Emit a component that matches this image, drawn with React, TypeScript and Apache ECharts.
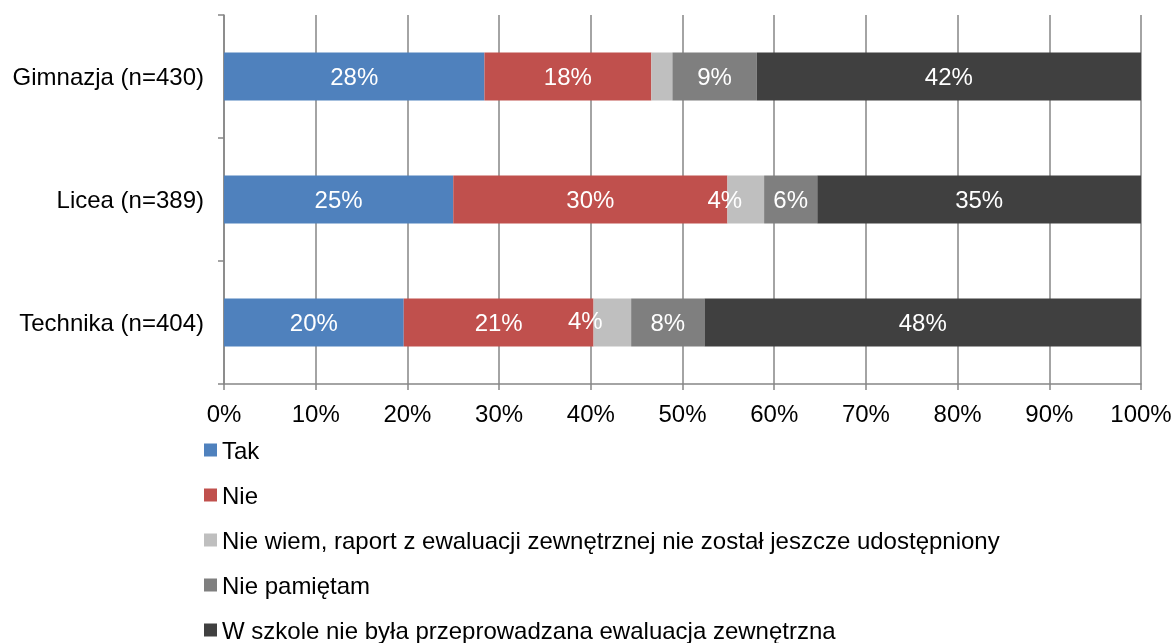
import React, { useEffect, useRef } from "react";
import * as echarts from "echarts";

const categories = ["Gimnazja (n=430)", "Licea (n=389)", "Technika (n=404)"];
const seriesNames = [
  "Tak",
  "Nie",
  "Nie wiem, raport z ewaluacji zewnętrznej nie został jeszcze udostępniony",
  "Nie pamiętam",
  "W szkole nie była przeprowadzana ewaluacja zewnętrzna",
];
const tak = [28.4, 25.0, 19.6];
const nie = [18.2, 29.9, 20.7];
const nieWiem = [2.3, 4.0, 4.1];
const niePamietam = [9.2, 5.8, 8.0];
const wSzkole = [41.9, 35.3, 47.6];
const xTicks = [0, 10, 20, 30, 40, 50, 60, 70, 80, 90, 100];

const colors = ["#4F81BD", "#C0504D", "#BFBFBF", "#7F7F7F", "#404040"];
const FONT = "Liberation Sans, Arial, sans-serif";
const FS = 24;

export default function App() {
  const ref = useRef<HTMLDivElement>(null);
  useEffect(() => {
    if (!ref.current) return;
    document.body.style.margin = "0";
    document.body.style.overflow = "hidden";
    const chart = echarts.init(ref.current, null, { renderer: "svg" });
    const all = [tak, nie, nieWiem, niePamietam, wSzkole];
    // label tweaks for the light-gray series (as in the reference)
    const nieWiemLabel = [
      { show: false },
      { show: true, offset: [-21, 0] },
      { show: true, offset: [-27, -2] },
    ];
    const series = all.map((vals, si) => ({
      name: seriesNames[si],
      type: "bar",
      stack: "total",
      barWidth: 48,
      itemStyle: { color: colors[si] },
      label: {
        show: true,
        position: "inside",
        color: "#fff",
        fontSize: FS,
        fontFamily: FONT,
        formatter: (p: any) => Math.round(p.value) + "%",
      },
      data: vals.map((v, i) =>
        si === 2 ? { value: v, label: nieWiemLabel[i] } : { value: v }
      ),
    }));
    chart.setOption({
      animation: false,
      textStyle: { fontFamily: FONT },
      grid: { left: 224, right: 34, top: 15, bottom: 259, containLabel: false },
      xAxis: {
        type: "value",
        min: xTicks[0],
        max: xTicks[xTicks.length - 1],
        interval: 10,
        axisLine: { show: true, lineStyle: { color: "#868686", width: 1.5 } },
        axisTick: { show: true, length: 6, lineStyle: { color: "#868686", width: 1.5 } },
        axisLabel: {
          formatter: "{value}%",
          fontSize: FS,
          color: "#000",
          margin: 17,
          fontFamily: FONT,
        },
        splitLine: { show: true, lineStyle: { color: "#868686", width: 1.5 } },
      },
      yAxis: {
        type: "category",
        data: categories,
        inverse: true,
        axisLine: { show: true, lineStyle: { color: "#868686", width: 1.5 } },
        axisTick: { show: true, length: 6, lineStyle: { color: "#868686", width: 1.5 } },
        axisLabel: { fontSize: FS, color: "#000", margin: 20, fontFamily: FONT },
      },
      legend: {
        orient: "vertical",
        left: 204,
        top: 438,
        height: 240,
        padding: 0,
        itemWidth: 13,
        itemHeight: 13,
        itemGap: 21,
        icon: "rect",
        textStyle: { fontSize: FS, color: "#000", fontFamily: FONT, lineHeight: 24 },
        data: seriesNames,
      },
      series,
    });
    return () => chart.dispose();
  }, []);
  return (
    <div
      ref={ref}
      style={{ position: "fixed", left: 0, top: 0, width: 1175, height: 643 }}
    />
  );
}
